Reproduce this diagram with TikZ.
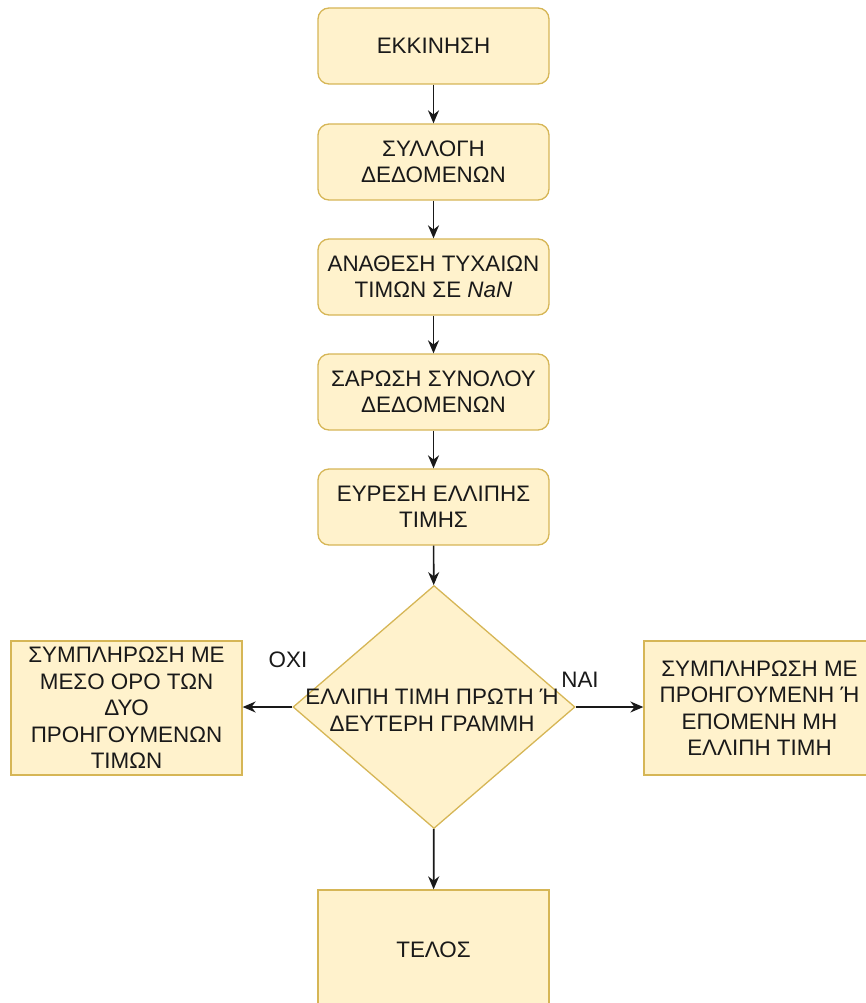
\documentclass[tikz,border=0pt]{standalone}
\usepackage{fontspec}
\setmainfont{Liberation Sans}
\usetikzlibrary{shapes.geometric,arrows.meta}
\definecolor{boxfill}{HTML}{FFF2CC}
\definecolor{boxline}{HTML}{D6B656}
\begin{document}
\begin{tikzpicture}[x=1pt,y=-1pt,
    txt/.style={font=\fontsize{22.4pt}{26.5pt}\selectfont, text=black!90, align=center, inner sep=0pt},
    stepbox/.style={txt, draw=boxline, fill=boxfill, line width=1.3pt, minimum width=231pt, minimum height=76pt},
    roundbox/.style={stepbox, rounded corners=11pt},
    decision/.style={diamond, draw=boxline, fill=boxfill, line width=1.3pt, inner sep=0pt, minimum width=282pt, minimum height=243pt},
    flow/.style={-{Stealth[length=13pt,width=11pt]}, line width=1.7pt, black!90}]
    \useasboundingbox (0,0) rectangle (866,1003);
    % main column
    \node[roundbox] (start) at (433.5,46) {ΕΚΚΙΝΗΣΗ};
    \node[roundbox] (collect) at (433.5,162) {ΣΥΛΛΟΓΗ\\ΔΕΔΟΜΕΝΩΝ};
    \node[roundbox] (assign) at (433.5,277) {ΑΝΑΘΕΣΗ ΤΥΧΑΙΩΝ\\ΤΙΜΩΝ ΣΕ \textit{NaN}};
    \node[roundbox] (scan) at (433.5,392) {ΣΑΡΩΣΗ ΣΥΝΟΛΟΥ\\ΔΕΔΟΜΕΝΩΝ};
    \node[roundbox] (find) at (433.5,507) {ΕΥΡΕΣΗ ΕΛΛΙΠΗΣ\\ΤΙΜΗΣ};
    \node[decision] (check) at (434,707) {};
    \node[txt] (checktxt) at (432,710) {ΕΛΛΙΠΗ ΤΙΜΗ ΠΡΩΤΗ Ή\\ΔΕΥΤΕΡΗ ΓΡΑΜΜΗ};
    \node[stepbox, minimum height=120pt] (stop) at (433.5,950) {ΤΕΛΟΣ};
    % side branches
    \node[stepbox, minimum height=134pt] (fillmean) at (126.5,708) {ΣΥΜΠΛΗΡΩΣΗ ΜΕ\\ΜΕΣΟ ΟΡΟ ΤΩΝ\\ΔΥΟ\\ΠΡΟΗΓΟΥΜΕΝΩΝ\\ΤΙΜΩΝ};
    \node[stepbox, minimum height=134pt] (fillnext) at (759.5,708) {ΣΥΜΠΛΗΡΩΣΗ ΜΕ\\ΠΡΟΗΓΟΥΜΕΝΗ Ή\\ΕΠΟΜΕΝΗ ΜΗ\\ΕΛΛΙΠΗ ΤΙΜΗ};
    \node[txt] (no) at (288,660) {ΟΧΙ};
    \node[txt] (yes) at (580,680) {ΝΑΙ};
    \foreach \a/\b in {start/collect,collect/assign,assign/scan,scan/find,find/check,check/stop}
        \draw[flow] (\a) -- (\b);
    \draw[flow] (check.west) -- (check.west -| fillmean.east);
    \draw[flow] (check.east) -- (check.east -| fillnext.west);
\end{tikzpicture}
\end{document}
